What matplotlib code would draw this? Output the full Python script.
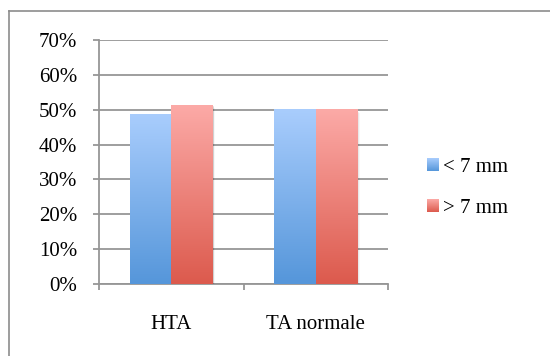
import numpy as np
import matplotlib
matplotlib.use("Agg")
import matplotlib.pyplot as plt
from matplotlib.colors import LinearSegmentedColormap
from matplotlib.legend_handler import HandlerBase
from matplotlib.image import BboxImage
from matplotlib.transforms import Bbox, TransformedBbox
from matplotlib.patches import Patch, Rectangle
from matplotlib.lines import Line2D

categories = ["HTA", "TA normale"]
series_names = ["< 7 mm", "> 7 mm"]
values_lt7 = [48.7, 50.0]
values_gt7 = [51.3, 50.0]
y_ticks = [0, 10, 20, 30, 40, 50, 60, 70]
y_tick_labels = ["0%", "10%", "20%", "30%", "40%", "50%", "60%", "70%"]

GRAY = "#969696"
blue_cmap = LinearSegmentedColormap.from_list("blue_grad", ["#5596da", "#a9cdfd"])
red_cmap = LinearSegmentedColormap.from_list("red_grad", ["#dc5a4d", "#fcaaa7"])
grad = np.linspace(0, 1, 256).reshape(-1, 1)

plt.rcParams["font.family"] = ["Liberation Serif", "DejaVu Serif"]
FS = 15

fig = plt.figure(figsize=(5.5, 3.56), dpi=100)
fig.patch.set_facecolor("white")

# chart frame (top and left edges visible)
fig.add_artist(Line2D([9 / 550, 1.0], [1 - 11 / 356, 1 - 11 / 356],
                      transform=fig.transFigure, color="#8c8c8c", lw=1.2))
fig.add_artist(Line2D([9 / 550, 9 / 550], [0.0, 1 - 11 / 356],
                      transform=fig.transFigure, color="#8c8c8c", lw=1.2))

ax = fig.add_axes([99 / 550, 1 - 284 / 356, 289 / 550, 244 / 356])

x = np.arange(len(categories))
width = 0.287

for vals, cmap, offset in [(values_lt7, blue_cmap, -width / 2),
                           (values_gt7, red_cmap, width / 2)]:
    bars = ax.bar(x + offset, vals, width, color="none", edgecolor="none", zorder=3)
    for b in bars:
        bx, by = b.get_x(), b.get_y()
        bw, bh = b.get_width(), b.get_height()
        # soft shadow
        for i, a in enumerate([0.10, 0.06, 0.03]):
            ax.add_patch(Rectangle((bx + 0.006 * (i + 1), by), bw, bh - 0.3 * (i + 1),
                                   facecolor="black", alpha=a, edgecolor="none", zorder=2.5))
        ax.imshow(grad, cmap=cmap, origin="lower", aspect="auto",
                  extent=[bx, bx + bw, by, by + bh], zorder=3.2)
ax.set_xlim(-0.5, 1.5)
ax.set_ylim(0, 70)

# axes styling
for s in ["top", "right"]:
    ax.spines[s].set_visible(False)
for s in ["left", "bottom"]:
    ax.spines[s].set_color(GRAY)
    ax.spines[s].set_linewidth(1.3)
    ax.spines[s].set_zorder(1)

ax.set_yticks(y_ticks)
ax.set_yticklabels(y_tick_labels, fontsize=FS)
ax.tick_params(axis="y", length=4.5, width=1.3, color=GRAY, pad=11)
ax.yaxis.grid(True, color=GRAY, linewidth=1.3, zorder=1)
ax.set_axisbelow(True)

ax.set_xticks(x)
ax.set_xticklabels(categories, fontsize=FS)
ax.tick_params(axis="x", which="major", length=0, pad=22)
ax.set_xticks([-0.5, 0.5, 1.5], minor=True)
ax.tick_params(axis="x", which="minor", length=4.5, width=1.3, color=GRAY)


class GradientHandler(HandlerBase):
    def __init__(self, cmap):
        super().__init__()
        self.cmap = cmap

    def create_artists(self, legend, orig_handle, xdescent, ydescent,
                       width, height, fontsize, trans):
        bb = Bbox.from_bounds(-xdescent, -ydescent, width, height)
        img = BboxImage(TransformedBbox(bb, trans), cmap=self.cmap,
                        interpolation="bilinear", origin="lower")
        img.set_data(grad)
        return [img]


h1 = Patch(label=series_names[0])
h2 = Patch(label=series_names[1])
fig.legend(handles=[h1, h2], labels=series_names,
           handler_map={h1: GradientHandler(blue_cmap), h2: GradientHandler(red_cmap)},
           loc="center left", bbox_to_anchor=(427 / 550, 1 - 188 / 356),
           borderaxespad=0, borderpad=0,
           frameon=False, fontsize=FS, handlelength=0.53, handleheight=0.53,
           handletextpad=0.25, labelspacing=1.05)

fig.savefig("out.png", dpi=100, facecolor="white")
